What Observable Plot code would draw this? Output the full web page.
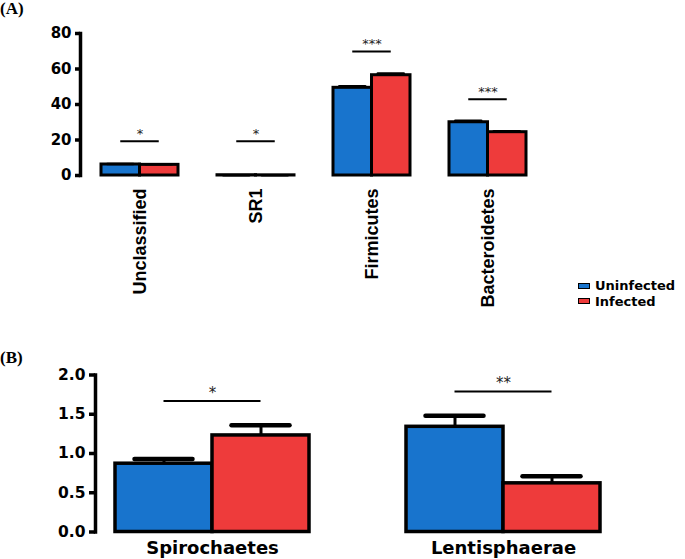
<!DOCTYPE html>
<html>
<head>
<meta charset="utf-8">
<script src="https://cdn.jsdelivr.net/npm/d3@7"></script>
<script src="https://cdn.jsdelivr.net/npm/@observablehq/plot@0.6"></script>
<style>
  body { margin: 0; background: #fff; }
  #wrap { position: relative; width: 685px; height: 559px; background: #fff; overflow: hidden; }
  .plab { position: absolute; left: 0; font-family: "Liberation Serif", serif; font-weight: bold; font-size: 17px; line-height: 17px; }
  .leg { position: absolute; font-family: "DejaVu Sans", sans-serif; font-weight: bold; font-size: 13px; line-height: 13px; white-space: nowrap; }
  .box { position: absolute; width: 10px; height: 4px; border: 1.5px solid #000; }
</style>
</head>
<body>
<div id="wrap">
  <div id="pa" style="position:absolute;left:0;top:0"></div>
  <div id="pb" style="position:absolute;left:0;top:335px"></div>
  <div class="plab" style="top:0px">(A)</div>
  <div class="plab" style="top:349px">(B)</div>
  <div class="box" id="boxU" style="left:578px;top:282.7px"></div>
  <div class="leg" id="legU" style="left:595px;top:279.2px">Uninfected</div>
  <div class="box" id="boxI" style="left:578px;top:297.8px"></div>
  <div class="leg" id="legI" style="left:595px;top:294.6px">Infected</div>
</div>
<script>
// ---------- data ----------
const seriesNames = ["Uninfected", "Infected"];
const seriesColors = ["#1874CD", "#EE3B3B"];

const phylaA = ["Unclassified", "SR1", "Firmicutes", "Bacteroidetes"];
const uninfectedA = [6.2, 0.15, 49.4, 30.0];
const infectedA = [6.0, 0.1, 56.5, 24.4];
const uninfectedErrA = [0.3, 0.05, 0.9, 0.8];
const infectedErrA = [0.3, 0.05, 1.0, 0.6];
const sigLineA = [19.3, 19.3, 69.9, 43.0];
const sigStarsA = ["*", "*", "***", "***"];
const yTicksA = [0, 20, 40, 60, 80];

const phylaB = ["Spirochaetes", "Lentisphaerae"];
const uninfectedB = [0.87, 1.34];
const infectedB = [1.23, 0.62];
const uninfectedErrB = [0.06, 0.14];
const infectedErrB = [0.13, 0.09];
const sigLineB = [1.67, 1.79];
const sigStarsB = ["*", "**"];
const yTicksB = [0, 0.5, 1.0, 1.5, 2.0];

document.getElementById("boxU").style.background = seriesColors[0];
document.getElementById("boxI").style.background = seriesColors[1];
document.getElementById("legU").textContent = seriesNames[0];
document.getElementById("legI").textContent = seriesNames[1];

function rowsOf(cats, u, r, ue, re, sig, stars) {
  return cats.map((c, i) => ({cat: c, u: u[i], r: r[i], ue: ue[i], re: re[i], sig: sig[i], stars: stars[i]}));
}

function makePanel(p, bw) {
  const rows = rowsOf(p.cats, p.u, p.r, p.ue, p.re, p.sig, p.stars);
  const half = bw / 2, q = bw / 4;
  const capIn = Math.max(0, (half - p.cap) / 2);
  return Plot.plot({
    width: 685,
    height: p.height,
    marginLeft: p.mL, marginRight: p.mR, marginTop: p.mT, marginBottom: p.mB,
    x: {type: "band", domain: p.cats, paddingInner: p.pi, paddingOuter: p.po, label: null},
    y: {domain: p.ydom, label: null},
    style: {fontFamily: "DejaVu Sans", fontWeight: "bold", background: "transparent", overflow: "visible", color: "#000"},
    marks: [
      Plot.barY(rows, {x: "cat", y: "u", fill: seriesColors[0], stroke: "#000", strokeWidth: p.sw, insetRight: half}),
      Plot.barY(rows, {x: "cat", y: "r", fill: seriesColors[1], stroke: "#000", strokeWidth: p.sw, insetLeft: half}),
      Plot.ruleX(rows, {x: "cat", y1: "u", y2: d => d.u + d.ue, dx: -q, stroke: "#000", strokeWidth: p.ew}),
      Plot.ruleX(rows, {x: "cat", y1: "r", y2: d => d.r + d.re, dx: q, stroke: "#000", strokeWidth: p.ew}),
      Plot.tickY(rows, {x: "cat", y: d => d.u + d.ue, insetLeft: capIn, insetRight: half + capIn, stroke: "#000", strokeWidth: p.cw, strokeLinecap: "round"}),
      Plot.tickY(rows, {x: "cat", y: d => d.r + d.re, insetLeft: half + capIn, insetRight: capIn, stroke: "#000", strokeWidth: p.cw, strokeLinecap: "round"}),
      Plot.ruleY(rows, {x1: "cat", x2: "cat", y: "sig", insetLeft: q, insetRight: q, stroke: "#000", strokeWidth: 2}),
      Plot.text(rows, {x: "cat", y: "sig", text: "stars", lineAnchor: "bottom", dy: -3, fontSize: p.starSize, fontWeight: "normal", fontFamily: "DejaVu Sans", fill: "#222"}),
      Plot.frame({anchor: "left", stroke: "#000", strokeWidth: p.axisW}),
      Plot.axisY({ticks: p.yticks, tickFormat: p.fmt, tickSize: p.tickSize, tickPadding: p.tickPad, strokeWidth: p.axisW, fontSize: p.tickFont, fontWeight: "bold", fontFamily: "DejaVu Sans", label: null}),
      p.rotate
        ? Plot.axisX({tickRotate: -90, tickSize: 0, tickPadding: p.xPad, fontSize: p.xFont, fontWeight: "bold", fontFamily: "Liberation Sans", label: null})
        : Plot.axisX({tickSize: 0, tickPadding: p.xPad, fontSize: p.xFont, fontWeight: "bold", fontFamily: "DejaVu Sans", label: null})
    ]
  });
}

function render(p, el) {
  const tmp = makePanel(p, 0);
  const bw = tmp.scale("x").bandwidth;
  document.getElementById(el).appendChild(makePanel(p, bw));
}

render({
  cats: phylaA, u: uninfectedA, r: infectedA, ue: uninfectedErrA, re: infectedErrA, sig: sigLineA, stars: sigStarsA,
  height: 330, mL: 80, mR: 138, mT: 33, mB: 155, pi: 0.34, po: 0.171,
  ydom: [0, 80], yticks: yTicksA, fmt: d3.format("d"),
  sw: 3, ew: 2.5, cw: 2.5, cap: 26, starSize: 13, axisW: 3.5, tickSize: 5, tickPad: 4, tickFont: 15,
  rotate: true, xPad: 13, xFont: 18
}, "pa");

render({
  cats: phylaB, u: uninfectedB, r: infectedB, ue: uninfectedErrB, re: infectedErrB, sig: sigLineB, stars: sigStarsB,
  height: 224, mL: 95, mR: 64, mT: 39.5, mB: 27.5, pi: 0.332, po: 0.0687,
  ydom: [0, 2], yticks: yTicksB, fmt: d3.format(".1f"),
  sw: 3.5, ew: 3, cw: 4.5, cap: 58, starSize: 15, axisW: 3.5, tickSize: 6, tickPad: 4, tickFont: 15.5,
  rotate: false, xPad: 9, xFont: 18
}, "pb");
</script>
</body>
</html>
